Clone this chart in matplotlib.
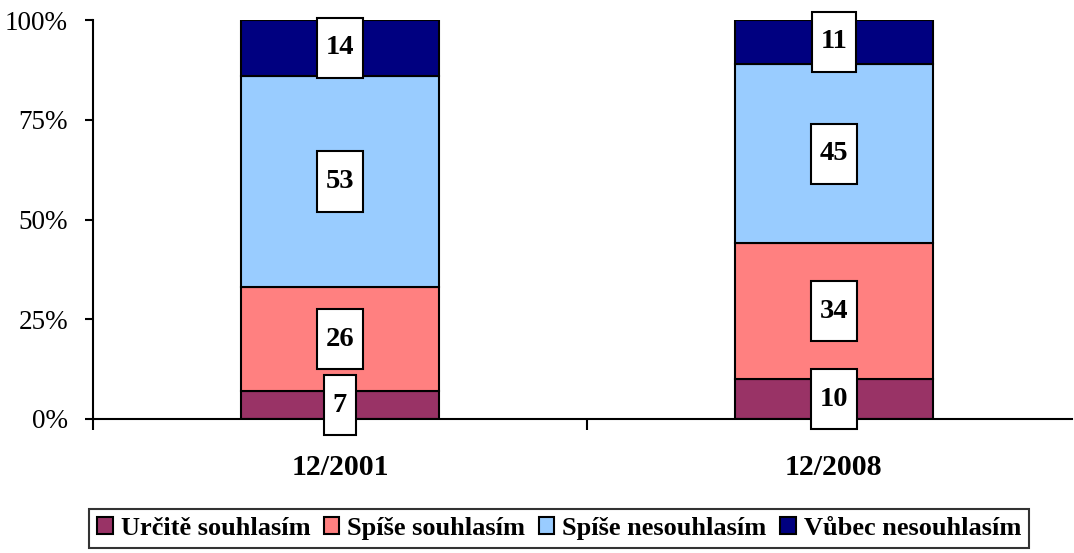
import matplotlib
matplotlib.use("Agg")
import matplotlib.pyplot as plt
from matplotlib.path import Path
import numpy as np

# data
categories = ["12/2001", "12/2008"]
series = ["Určitě souhlasím", "Spíše souhlasím", "Spíše nesouhlasím", "Vůbec nesouhlasím"]
values = [
    [7, 10],
    [26, 34],
    [53, 45],
    [14, 11],
]
colors = ["#993366", "#FF8080", "#99CCFF", "#000080"]

plt.rcParams["font.family"] = ["Liberation Serif", "DejaVu Serif"]

fig = plt.figure(figsize=(10.74, 5.53), dpi=100)
ax = fig.add_axes([93 / 1074, 1 - 419 / 553, (1072 - 93) / 1074, 399 / 553])

x = np.arange(len(categories))
bottom = np.zeros(len(categories))


def tall_box(x0, y0, width, height, mutation_size):
    # white label box, taller than wide
    px = mutation_size * 0.3
    py = mutation_size * 0.62
    xa, xb = x0 - px, x0 + width + px
    ya, yb = y0 - py, y0 + height + py
    return Path([(xa, ya), (xb, ya), (xb, yb), (xa, yb), (xa, ya)],
                [Path.MOVETO, Path.LINETO, Path.LINETO, Path.LINETO, Path.CLOSEPOLY])


for name, vals, col in zip(series, values, colors):
    vals = np.array(vals, dtype=float)
    ax.bar(x, vals, 0.4, bottom=bottom, color=col, edgecolor="black",
           linewidth=1.5, label=name, zorder=2)
    for xi, b, v in zip(x, bottom, vals):
        ax.text(xi, b + v / 2, f"{int(v)}", ha="center", va="center",
                fontsize=20.5, fontweight="bold", zorder=5,
                bbox=dict(boxstyle=tall_box, facecolor="white",
                          edgecolor="black", linewidth=1.5))
    bottom += vals

ax.set_ylim(0, 100)
ax.set_xlim(-0.5, 1.482)
ax.set_yticks([0, 25, 50, 75, 100])
ax.set_yticklabels(["0%", "25%", "50%", "75%", "100%"], fontsize=19.5)
ax.tick_params(axis="y", direction="out", length=6, width=1.5, pad=12)

ax.set_xticks(x)
ax.set_xticklabels(categories, fontsize=21.5, fontweight="bold")
ax.tick_params(axis="x", length=0, pad=25)
ax.set_xticks([-0.5, 0.5], minor=True)
ax.tick_params(axis="x", which="minor", direction="out", length=8, width=1.5)

for s in ["top", "right"]:
    ax.spines[s].set_visible(False)
ax.spines["left"].set_linewidth(1.5)
ax.spines["bottom"].set_linewidth(1.5)

leg = fig.legend(loc="lower center", bbox_to_anchor=(559 / 1074, 0.0), ncol=4,
                 frameon=True, fancybox=False, edgecolor="black",
                 prop={"size": 19, "weight": "bold"}, handlelength=0.6,
                 handleheight=0.6, handletextpad=0.3, columnspacing=0.5,
                 borderpad=0.3, borderaxespad=0.2)
leg.get_frame().set_linewidth(1.5)
for h in leg.legend_handles:
    h.set_edgecolor("black")
    h.set_linewidth(1.5)

fig.savefig("out.png", dpi=100)
